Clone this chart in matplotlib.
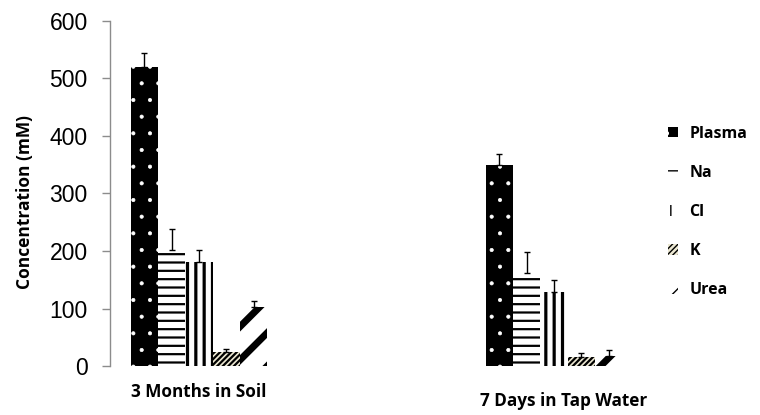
import matplotlib
matplotlib.use("Agg")
import matplotlib.pyplot as plt
import numpy as np

# Data
groups = ["3 Months in Soil", "7 Days in Tap Water"]
series = ["Plasma", "Na", "Cl", "K", "Urea"]
plasma = [520, 350]
sodium = [202, 161]
chloride = [181, 129]
potassium = [24, 16]
urea = [103, 17]
plasma_err = [25, 18]
sodium_err = [36, 38]
chloride_err = [21, 20]
potassium_err = [5, 6]
urea_err = [10, 10]

values = [plasma, sodium, chloride, potassium, urea]
errors = [plasma_err, sodium_err, chloride_err, potassium_err, urea_err]

# Fill styles per series: (facecolor, hatch colour, hatch, hatch linewidth)
styles = [
    ("black", "white", ".", 0.5),
    ("white", "black", "--", 1.6),
    ("white", "black", "||", 2.3),
    ("#ece8d2", "black", "//////", 1.6),
    ("white", "black", "/", 5.0),
]

bold_font = ["Open Sans", "DejaVu Sans"]
plt.rcParams["font.family"] = ["Liberation Sans", "DejaVu Sans"]

fig = plt.figure(figsize=(7.6, 4.15), dpi=100)
ax = fig.add_axes([110 / 760, 49 / 415, 540 / 760, 345 / 415])

x = np.arange(len(groups))
width = 0.077
offsets = (np.arange(len(series)) - 2) * width

handles = []
for i, (name, vals, errs) in enumerate(zip(series, values, errors)):
    fc, hc, hatch, hlw = styles[i]
    with plt.rc_context({"hatch.linewidth": hlw, "hatch.color": hc}):
        bars = ax.bar(x + offsets[i], vals, width, color=fc, edgecolor=hc,
                      linewidth=0, hatch=hatch, label=name, zorder=2)
        for b in bars:
            if hasattr(b, "set_hatch_linewidth"):
                b.set_hatch_linewidth(hlw)
    ax.errorbar(x + offsets[i], vals, yerr=[np.zeros(len(errs)), errs],
                fmt="none", ecolor="black", elinewidth=1.0, capsize=2.5,
                capthick=1.0, zorder=3)
    handles.append(bars)

ax.set_ylim(0, 600)
ax.set_xlim(-0.2507, 1.2704)
ax.set_yticks(np.arange(0, 601, 100))
ax.tick_params(axis="y", direction="out", length=6, width=1, color="#8c8c8c",
               labelsize=16.5, pad=10)
ax.set_xticks([])
for side in ["top", "right", "bottom"]:
    ax.spines[side].set_visible(False)
ax.spines["left"].set_color("#8c8c8c")
ax.spines["left"].set_linewidth(1)

ax.set_ylabel("Concentration (mM)", fontsize=12.5, fontweight="bold",
              family=bold_font)
ax.yaxis.set_label_coords(-0.14, 0.475)

# Category labels under each group
trans = ax.get_xaxis_transform()
ax.text(x[0], -0.076, groups[0], transform=trans, ha="center", va="center",
        fontsize=12.3, fontweight="bold", family=bold_font)
ax.text(x[1] + 0.028, -0.101, groups[1], transform=trans, ha="center",
        va="center", fontsize=12.3, fontweight="bold", family=bold_font)

leg = fig.legend(handles, series, loc="upper left",
                 bbox_to_anchor=(668 / 760, 1 - 125.5 / 415), frameon=False,
                 borderpad=0, borderaxespad=0,
                 prop={"family": bold_font, "weight": "bold", "size": 11.5},
                 handlelength=0.65, handleheight=0.65, handletextpad=0.7,
                 labelspacing=1.45)

fig.savefig("out.png", dpi=100)
